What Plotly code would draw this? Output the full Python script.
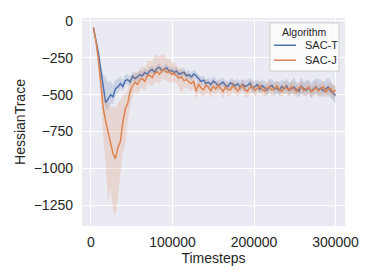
import plotly.graph_objects as go

timesteps = list(range(3000, 300001, 3000))

sac_t_mean = [-45, -120, -215, -330, -455, -555, -530, -500, -515, -460,
              -448, -425, -445, -405, -398, -415,
              -375, -392, -380, -365, -372, -350, -362, -340, -330, -348,
              -322, -315, -338, -325, -318, -342, -335, -350, -340, -362,
              -355, -348, -372, -365, -380, -360, -372,
              -395, -410, -402, -425, -415, -432, -408, -420, -440, -428,
              -415, -438, -445, -420, -432, -440, -425, -452, -430, -445,
              -438, -422, -455, -448, -432, -465, -440, -452, -470, -445,
              -438, -462, -455, -472, -445, -460, -440, -472, -458, -448,
              -465, -478, -442, -460, -470, -450, -478, -462, -448, -470,
              -455, -475, -460, -448, -478, -490, -505]
sac_t_dev_lo = [3, 12, 25, 40, 55, 45, 70, 60, 50, 45,
                40, 35, 38, 30, 32, 30, 28, 30, 26, 28,
                25, 28, 24, 22, 26, 22, 24, 25, 22, 24,
                26, 22, 25, 24, 28, 22, 30, 25, 28, 24,
                30, 26, 25, 28, 24, 30, 26, 28, 30, 25,
                28, 30, 26, 32, 28, 30, 35, 28, 30, 32,
                28, 35, 30, 40, 32, 30, 45, 35, 30, 38,
                32, 40, 35, 30, 45, 38, 32, 40, 35, 42,
                38, 35, 48, 32, 40, 55, 36, 42, 38, 50,
                40, 45, 38, 55, 42, 40, 60, 45, 50, 55]
sac_t_dev_hi = [3, 12, 25, 45, 90, 180, 110, 90, 80, 60,
                55, 50, 45, 40, 38, 35, 32, 35, 30, 30,
                28, 30, 26, 25, 28, 25, 26, 28, 24, 26,
                28, 24, 30, 26, 32, 25, 28, 30, 26, 35,
                28, 30, 32, 28, 35, 30, 28, 32, 30, 35,
                28, 32, 38, 30, 35, 32, 30, 40, 34, 32,
                38, 35, 42, 36, 38, 45, 40, 38, 50, 42,
                45, 40, 55, 42, 48, 45, 60, 45, 50, 48,
                55, 50, 65, 48, 52, 58, 50, 70, 55, 52,
                60, 55, 75, 58, 55, 65, 60, 70, 62, 55]

sac_j_mean = [-45, -135, -260, -420, -590, -680, -760, -830, -900, -935,
              -860, -820, -690, -600, -560, -480, -440, -415,
              -432, -400, -392, -410, -375, -368, -385, -355, -345, -362,
              -335, -330, -350, -342, -362, -355, -372, -390, -380, -405,
              -398, -415, -425, -410, -478,
              -430, -455, -468, -438, -450, -475, -445, -462, -435, -458,
              -478, -448, -465, -470, -440, -455, -475, -450, -438, -468,
              -478, -452, -445, -470, -460, -440, -465, -478, -455, -448,
              -470, -462, -440, -468, -478, -450, -458, -472, -445, -465,
              -480, -455, -448, -472, -462, -450, -478, -468, -452, -475,
              -460, -448, -482, -465, -458, -485, -470]
sac_j_dev_lo = [3, 15, 40, 100, 200, 300, 470, 300, 380, 390,
                340, 250, 200, 250, 130, 100, 80, 60, 70, 60,
                65, 70, 60, 55, 65, 60, 70, 62, 58, 65,
                60, 70, 62, 58, 55, 60, 120, 50, 55, 45,
                50, 48, 60, 45, 50, 42, 55, 45, 48, 40,
                45, 40, 42, 48, 40, 45, 38, 42, 40, 45,
                42, 38, 45, 40, 42, 38, 45, 40, 42, 38,
                40, 42, 38, 45, 40, 42, 38, 40, 45, 42,
                40, 38, 45, 40, 42, 45, 40, 42, 48, 40,
                42, 45, 40, 48, 42, 45, 40, 48, 45, 42]
sac_j_dev_hi = [3, 15, 35, 80, 110, 150, 200, 250, 320, 350,
                300, 280, 180, 110, 90, 80, 70, 70, 75, 80,
                85, 90, 95, 100, 110, 115, 120, 115, 110, 100,
                90, 85, 80, 75, 70, 65, 60, 55, 50, 48,
                45, 42, 50, 45, 42, 40, 45, 42, 40, 45,
                42, 40, 45, 38, 40, 45, 42, 36, 45, 42,
                40, 45, 38, 40, 48, 42, 40, 45, 36, 40,
                45, 42, 40, 48, 42, 38, 45, 42, 40, 45,
                42, 40, 46, 42, 38, 45, 42, 40, 45, 42,
                40, 45, 42, 38, 45, 42, 40, 45, 42, 40]

series_names = ["SAC-T", "SAC-J"]
legend_title = "Algorithm"
x_tick_vals = [0, 100000, 200000, 300000]
x_tick_text = ["0", "100000", "200000", "300000"]
y_tick_vals = [0, -250, -500, -750, -1000, -1250]
y_tick_text = ["0", "\u2212250", "\u2212500", "\u2212750", "\u22121000", "\u22121250"]

line_colors = ["#4C72B0", "#DD8452"]
band_colors = ["rgba(76,114,176,0.2)", "rgba(221,132,82,0.2)"]

fig = go.Figure()
data = [(sac_t_mean, sac_t_dev_lo, sac_t_dev_hi), (sac_j_mean, sac_j_dev_lo, sac_j_dev_hi)]
for k, (m, dlo, dhi) in enumerate(data):
    upper = [a + b for a, b in zip(m, dhi)]
    lower = [a - b for a, b in zip(m, dlo)]
    fig.add_trace(go.Scatter(x=timesteps + timesteps[::-1], y=upper + lower[::-1],
                             fill="toself", fillcolor=band_colors[k], line=dict(width=0),
                             mode="lines", showlegend=False, hoverinfo="skip"))
    fig.add_trace(go.Scatter(x=timesteps, y=m, mode="lines", name=series_names[k],
                             showlegend=False,
                             line=dict(color=line_colors[k], width=1.5)))

# legend box (paper coordinates of the plot area)
fig.add_shape(type="rect", xref="paper", yref="paper", x0=0.7148, x1=0.9772, y0=0.745, y1=0.976,
              line=dict(color="rgba(204,204,204,0.9)", width=1), fillcolor="rgba(255,255,255,0.8)",
              layer="above")
fig.add_annotation(xref="paper", yref="paper", x=0.846, y=0.935, text=legend_title,
                   showarrow=False, xanchor="center", yanchor="middle",
                   font=dict(size=10.5, color="#262626"))
legend_rows = [0.869, 0.797]
for k in range(2):
    fig.add_shape(type="line", xref="paper", yref="paper", x0=0.730, x1=0.8137,
                  y0=legend_rows[k], y1=legend_rows[k], line=dict(color=line_colors[k], width=1.5),
                  layer="above")
    fig.add_annotation(xref="paper", yref="paper", x=0.840, y=legend_rows[k], text=series_names[k],
                       showarrow=False, xanchor="left", yanchor="middle",
                       font=dict(size=11, color="#262626"))

font_family = "Liberation Sans, Arial, sans-serif"
fig.update_layout(
    width=358, height=264,
    margin=dict(l=74, r=21, t=10, b=46),
    paper_bgcolor="white", plot_bgcolor="#EAEAF2",
    font=dict(family=font_family, size=14, color="#262626"),
    xaxis=dict(range=[-11000, 311600], tickmode="array", tickvals=x_tick_vals, ticktext=x_tick_text,
               showgrid=True, gridcolor="white", gridwidth=1, zeroline=False, showline=False,
               ticklabelstandoff=6, automargin=False,
               title=dict(text="Timesteps", font=dict(size=14), standoff=4)),
    yaxis=dict(range=[-1392, 20], tickmode="array", tickvals=y_tick_vals, ticktext=y_tick_text,
               showgrid=True, gridcolor="white", gridwidth=1, zeroline=False, showline=False,
               ticklabelstandoff=8, automargin=False,
               title=dict(text="HessianTrace", font=dict(size=14), standoff=4)),
    showlegend=False,
)
fig.write_html("out.html")
